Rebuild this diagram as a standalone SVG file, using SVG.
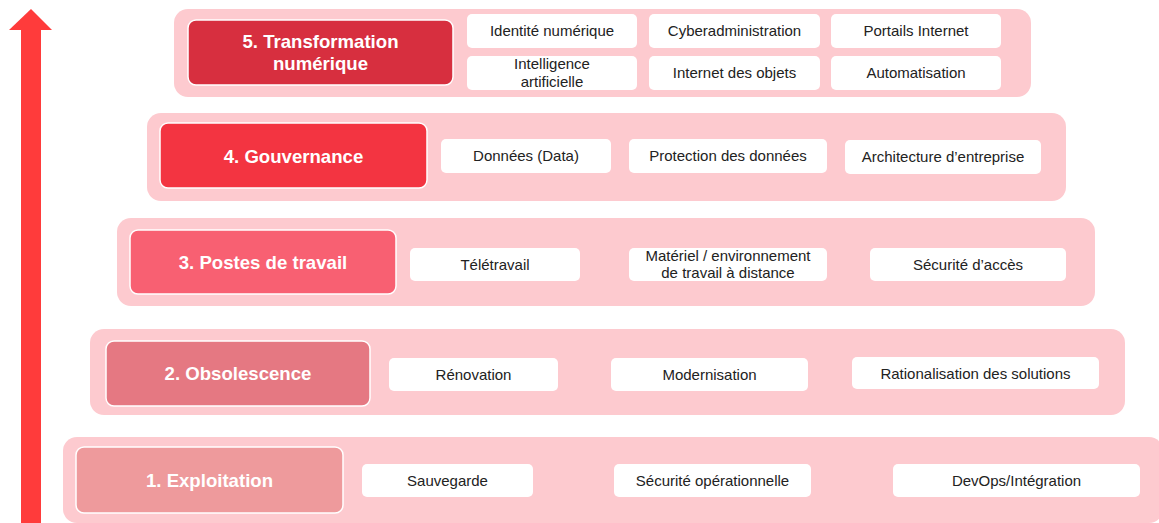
<svg xmlns="http://www.w3.org/2000/svg" width="1159" height="523" viewBox="0 0 1159 523">
<style>
.band{fill:#FDCACF}
.title{stroke:#FFFFFF;stroke-width:1.5}
.item{fill:#FFFFFF}
.tt{font-family:"Liberation Sans",Arial,sans-serif;font-size:18.6px;font-weight:bold;fill:#FFFFFF;text-anchor:middle}
.it{font-family:"Liberation Sans",Arial,sans-serif;font-size:15px;fill:#222222;text-anchor:middle}
</style>
<rect width="1159" height="523" fill="#FFFFFF"/>
<g id="connectors">
<rect x="21" y="29" width="20" height="494" fill="#FF3B3B"/>
<polygon points="31,9 52,30 9,30" fill="#FF3B3B"/>
</g>
<g id="layer1">
<rect class="band" x="63" y="437" width="1100" height="86" rx="14"/>
<rect class="title" x="76" y="447" width="267" height="66" rx="8" fill="#EE9A9C"/>
<text class="tt" x="209.5" y="486.5">1. Exploitation</text>
<rect class="item" x="362" y="464" width="171" height="33" rx="5"/>
<text class="it" x="447.5" y="486">Sauvegarde</text>
<rect class="item" x="614" y="464" width="197" height="33" rx="5"/>
<text class="it" x="712.5" y="486">Sécurité opérationnelle</text>
<rect class="item" x="893" y="464" width="247" height="33" rx="5"/>
<text class="it" x="1016.5" y="486">DevOps/Intégration</text>
</g>
<g id="layer2">
<rect class="band" x="90" y="329" width="1035" height="86" rx="14"/>
<rect class="title" x="106" y="341" width="264" height="65" rx="8" fill="#E57882"/>
<text class="tt" x="238" y="380">2. Obsolescence</text>
<rect class="item" x="389" y="358" width="169" height="33" rx="5"/>
<text class="it" x="473.5" y="380">Rénovation</text>
<rect class="item" x="611" y="358" width="197" height="33" rx="5"/>
<text class="it" x="709.5" y="380">Modernisation</text>
<rect class="item" x="852" y="357" width="247" height="32" rx="5"/>
<text class="it" x="975.5" y="378.5">Rationalisation des solutions</text>
</g>
<g id="layer3">
<rect class="band" x="117" y="218" width="978" height="88" rx="14"/>
<rect class="title" x="130" y="230" width="266" height="64" rx="8" fill="#F86072"/>
<text class="tt" x="263" y="268.5">3. Postes de travail</text>
<rect class="item" x="410" y="248" width="170" height="33" rx="5"/>
<text class="it" x="495" y="270">Télétravail</text>
<rect class="item" x="629" y="248" width="198" height="33" rx="5"/>
<text class="it" x="728" y="261">Matériel / environnement</text>
<text class="it" x="728" y="278">de travail à distance</text>
<rect class="item" x="870" y="248" width="196" height="33" rx="5"/>
<text class="it" x="968" y="270">Sécurité d’accès</text>
</g>
<g id="layer4">
<rect class="band" x="147" y="113" width="919" height="88" rx="14"/>
<rect class="title" x="160" y="123" width="267" height="65" rx="8" fill="#F33441"/>
<text class="tt" x="293.5" y="163">4. Gouvernance</text>
<rect class="item" x="441" y="139" width="170" height="34" rx="5"/>
<text class="it" x="526" y="161">Données (Data)</text>
<rect class="item" x="629" y="139" width="198" height="34" rx="5"/>
<text class="it" x="728" y="161">Protection des données</text>
<rect class="item" x="845" y="140" width="196" height="34" rx="5"/>
<text class="it" x="943" y="162">Architecture d’entreprise</text>
</g>
<g id="layer5">
<rect class="band" x="174" y="9" width="857" height="88" rx="14"/>
<rect class="title" x="188" y="20" width="265" height="65" rx="8" fill="#D72F3F"/>
<text class="tt" x="320.5" y="47.5">5. Transformation</text>
<text class="tt" x="320.5" y="69.5">numérique</text>
<rect class="item" x="467" y="14" width="170" height="34" rx="5"/>
<text class="it" x="552" y="36">Identité numérique</text>
<rect class="item" x="649" y="14" width="171" height="34" rx="5"/>
<text class="it" x="734.5" y="36">Cyberadministration</text>
<rect class="item" x="831" y="14" width="170" height="34" rx="5"/>
<text class="it" x="916" y="36">Portails Internet</text>
<rect class="item" x="467" y="56" width="170" height="34" rx="5"/>
<text class="it" x="552" y="69">Intelligence</text>
<text class="it" x="552" y="87">artificielle</text>
<rect class="item" x="649" y="56" width="171" height="34" rx="5"/>
<text class="it" x="734.5" y="78">Internet des objets</text>
<rect class="item" x="831" y="56" width="170" height="34" rx="5"/>
<text class="it" x="916" y="78">Automatisation</text>
</g>
</svg>
